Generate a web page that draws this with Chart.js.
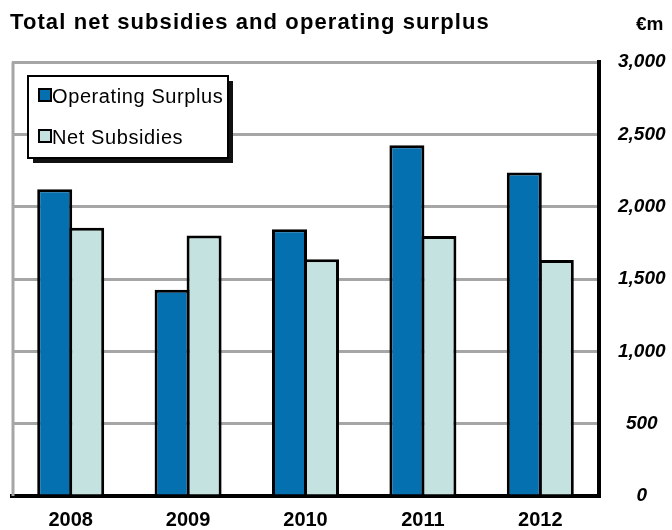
<!DOCTYPE html>
<html lang="en">
<head>
    <meta charset="UTF-8">
    <title>Total net subsidies and operating surplus</title>
    <style>
        html, body {
            margin: 0;
            padding: 0;
            background: #fff;
        }

        #wrap {
            width: 672px;
            height: 530px;
        }
    </style>
    <script src="https://cdn.jsdelivr.net/npm/chart.js"></script>
</head>
<body>
    <div id="wrap">
        <canvas id="chart"></canvas>
    </div>

    <script>
        // values (€m)
        const years = ['2008', '2009', '2010', '2011', '2012'];
        const operatingSurplus = [2121, 1425, 1844, 2425, 2236];
        const netSubsidies = [1855, 1800, 1637, 1798, 1632];
        const yTicks = [0, 500, 1000, 1500, 2000, 2500, 3000];

        const titleText = 'Total net subsidies and operating surplus';
        const unitText = '€m';

        // title, unit label, left frame line and the boxed legend
        const decorations = {
            id: 'decorations',
            afterDraw(chart) {
                const ctx = chart.ctx;
                const area = chart.chartArea;
                ctx.save();

                // left frame edge (grey)
                ctx.strokeStyle = '#a6a6a6';
                ctx.lineWidth = 3;
                ctx.beginPath();
                ctx.moveTo(area.left + 1, area.top);
                ctx.lineTo(area.left + 1, area.bottom);
                ctx.stroke();

                ctx.fillStyle = '#000';
                ctx.textBaseline = 'alphabetic';
                ctx.font = 'bold 22px "Liberation Sans", Arial, sans-serif';
                ctx.letterSpacing = '1.1px';
                ctx.fillText(titleText, 10, 29);
                ctx.letterSpacing = '0px';
                ctx.font = 'bold 19px "Liberation Sans", Arial, sans-serif';
                ctx.fillText(unitText, 636, 30);

                // legend box with shadow
                const lx = 28, ly = 76, lw = 200, lh = 82;
                ctx.fillStyle = '#111';
                ctx.fillRect(lx + 5, ly + 5, lw, lh);
                ctx.fillStyle = '#fff';
                ctx.fillRect(lx, ly, lw, lh);
                ctx.strokeStyle = '#000';
                ctx.lineWidth = 2;
                ctx.strokeRect(lx, ly, lw, lh);

                ctx.font = '20px "Liberation Sans", Arial, sans-serif';
                ctx.letterSpacing = '0.6px';
                chart.data.datasets.forEach((ds, i) => {
                    const y = 89 + i * 41;
                    ctx.fillStyle = ds.backgroundColor;
                    ctx.fillRect(39, y, 12, 12);
                    ctx.strokeStyle = '#000';
                    ctx.lineWidth = 2;
                    ctx.strokeRect(39, y, 12, 12);
                    ctx.fillStyle = '#000';
                    ctx.fillText(ds.label, 52, y + 14);
                });

                ctx.restore();
            }
        };

        new Chart(document.getElementById('chart'), {
            type: 'bar',
            data: {
                labels: years,
                datasets: [{
                    label: 'Operating Surplus',
                    data: operatingSurplus,
                    backgroundColor: '#0570b0',
                    borderColor: '#000',
                    borderWidth: 3
                }, {
                    label: 'Net Subsidies',
                    data: netSubsidies,
                    backgroundColor: '#c3e2e0',
                    borderColor: '#000',
                    borderWidth: 3
                }]
            },
            options: {
                responsive: true,
                maintainAspectRatio: false,
                animation: false,
                devicePixelRatio: 1,
                categoryPercentage: 0.545,
                barPercentage: 1.094,
                layout: {
                    padding: { top: 62, left: 12, right: 0, bottom: 0 }
                },
                plugins: {
                    legend: { display: false },
                    title: { display: false },
                    tooltip: { enabled: false }
                },
                scales: {
                    x: {
                        grid: { display: false, drawTicks: false },
                        border: { display: true, color: '#000', width: 4 },
                        ticks: {
                            color: '#000',
                            padding: 12,
                            font: { family: '"Liberation Sans", Arial', size: 20, weight: 'bold' }
                        },
                        afterFit(scale) {
                            scale.height = 34;
                        }
                    },
                    y: {
                        position: 'right',
                        min: 0,
                        max: 3000,
                        afterBuildTicks(scale) {
                            scale.ticks = yTicks.map(v => ({ value: v }));
                        },
                        grid: {
                            color: '#a6a6a6',
                            lineWidth: 3,
                            drawTicks: false
                        },
                        border: { display: true, color: '#000', width: 4 },
                        ticks: {
                            color: '#000',
                            padding: 19,
                            crossAlign: 'center',
                            font: { family: '"Liberation Sans", Arial', size: 19, weight: 'bold', style: 'italic' },
                            callback: v => v.toLocaleString('en-US')
                        },
                        afterFit(scale) {
                            scale.width = 73;
                        }
                    }
                }
            },
            plugins: [decorations]
        });
    </script>
</body>
</html>
